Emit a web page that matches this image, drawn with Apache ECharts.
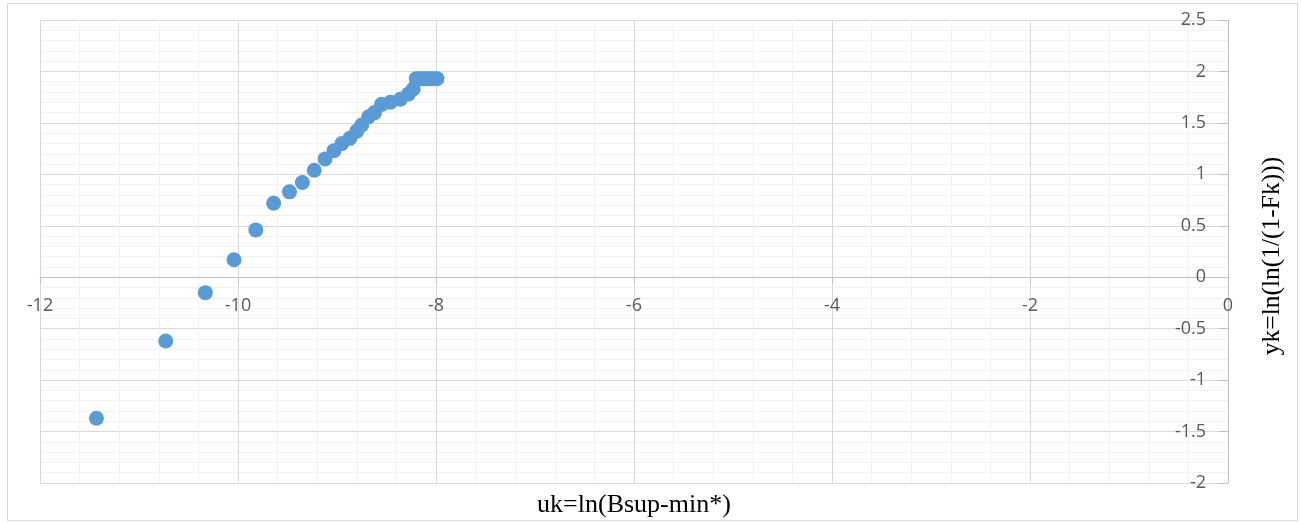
<!DOCTYPE html>
<html>
<head>
<meta charset="utf-8">
<script src="https://cdn.jsdelivr.net/npm/echarts@6/dist/echarts.min.js"></script>
<style>
  html, body { margin: 0; padding: 0; background: #ffffff; }
  #chart { width: 1301px; height: 523px; }
</style>
</head>
<body>
<div id="chart"></div>
<script>
// uk = ln(Bsup - min*)
const ukValues = [
  -11.43, -10.73, -10.33, -10.04, -9.82, -9.64, -9.48, -9.35, -9.23, -9.12,
  -9.03, -8.95, -8.87, -8.80, -8.75, -8.68, -8.62, -8.55, -8.46, -8.36,
  -8.28, -8.23, -8.20, -8.17, -8.14, -8.11, -8.08, -8.05, -8.02, -7.99
];
// yk = ln(ln(1/(1-Fk)))
const ykValues = [
  -1.37, -0.62, -0.15, 0.17, 0.46, 0.72, 0.83, 0.92, 1.04, 1.15,
  1.23, 1.30, 1.35, 1.42, 1.48, 1.56, 1.60, 1.68, 1.70, 1.73,
  1.78, 1.83, 1.93, 1.93, 1.93, 1.93, 1.93, 1.93, 1.93, 1.93
];
const xRange = [-12, 0];
const yRange = [-2, 2.5];
const xTitle = 'uk=ln(Bsup-min*)';
const yTitle = 'yk=ln(ln(1/(1-Fk)))';

const points = ukValues.map((u, i) => [u, ykValues[i]]);

const W = 1301, H = 523;
const grid = { left: 40, right: 73, top: 20, bottom: 40 };
const plotH = H - grid.top - grid.bottom;
// lift the horizontal axis from the bottom edge up to y = 0
const xAxisOffset = -plotH * (0 - yRange[0]) / (yRange[1] - yRange[0]);

const labelFont = { fontFamily: 'Open Sans', fontSize: 18, color: '#595959' };
const titleFont = 'Liberation Serif';

const chart = echarts.init(document.getElementById('chart'), null, { renderer: 'canvas' });
chart.setOption({
  animation: false,
  backgroundColor: '#ffffff',
  grid: Object.assign({ containLabel: false }, grid),
  xAxis: {
    type: 'value',
    position: 'bottom',
    offset: xAxisOffset,
    min: xRange[0], max: xRange[1], interval: 2,
    axisLine: { show: true, onZero: false, lineStyle: { color: '#bfbfbf', width: 1 } },
    axisTick: { show: true, length: 6, lineStyle: { color: '#bfbfbf' } },
    axisLabel: Object.assign({ margin: 20, showMaxLabel: true, showMinLabel: true }, labelFont),
    splitLine: { show: true, lineStyle: { color: '#d9d9d9', width: 1 } },
    minorTick: { show: false, splitNumber: 5 },
    minorSplitLine: { show: true, lineStyle: { color: '#f2f2f2', width: 1 } }
  },
  yAxis: {
    type: 'value',
    position: 'right',
    min: yRange[0], max: yRange[1], interval: 0.5,
    axisLine: { show: true, onZero: false, lineStyle: { color: '#bfbfbf', width: 1 } },
    axisTick: { show: true, inside: true, length: 9, lineStyle: { color: '#bfbfbf' } },
    axisLabel: Object.assign({ inside: true, margin: 22 }, labelFont),
    splitLine: { show: true, lineStyle: { color: '#d9d9d9', width: 1 } },
    minorTick: { show: false, splitNumber: 5 },
    minorSplitLine: { show: true, lineStyle: { color: '#f2f2f2', width: 1 } }
  },
  series: [{
    type: 'scatter',
    data: points,
    symbol: 'circle',
    symbolSize: 15,
    itemStyle: { color: '#5b9bd5', opacity: 1 }
  }],
  graphic: [
    {
      type: 'rect', silent: true, z: -10,
      shape: { x: 7.5, y: 3.5, width: 1290, height: 517 },
      style: { fill: 'none', stroke: '#d9d9d9', lineWidth: 1 }
    },
    {
      type: 'text', x: 634, y: 505,
      style: {
        text: xTitle, font: '26px "' + titleFont + '"', fill: '#000000',
        textAlign: 'center', textVerticalAlign: 'middle'
      }
    },
    {
      type: 'text', x: 1272, y: 256, rotation: Math.PI / 2,
      style: {
        text: yTitle, font: '25.5px "' + titleFont + '"', fill: '#000000',
        textAlign: 'center', textVerticalAlign: 'middle'
      }
    }
  ]
});
</script>
</body>
</html>
